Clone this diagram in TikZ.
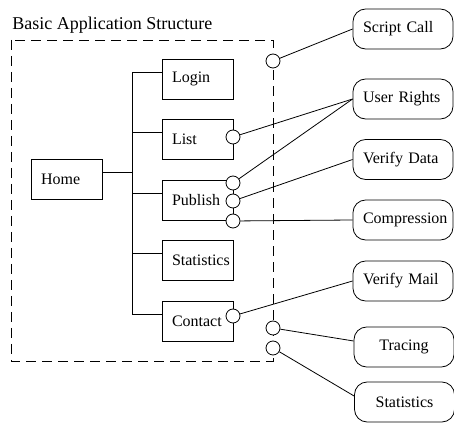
\documentclass[tikz,border=0pt]{standalone}
\usepackage{fontspec}
\setmainfont{Liberation Serif}
\usetikzlibrary{positioning}

\begin{document}
\begin{tikzpicture}[
  x=0.75pt, y=-0.75pt,
  box/.style={rectangle, draw, fill=white, line width=0.6pt, minimum width=53.25pt, minimum height=30pt,
    text width=38.25pt, inner sep=7.5pt, align=left, font=\fontsize{12}{14}\selectfont},
  svc/.style={rectangle, draw, fill=white, line width=0.6pt, rounded corners=9.5pt, minimum width=75pt, minimum height=30pt,
    text width=60pt, inner sep=7.5pt, align=left, font=\fontsize{12}{14}\selectfont},
  port/.style={circle, draw, fill=white, line width=0.6pt, inner sep=0pt, minimum size=10.5pt},
  link/.style={line width=0.6pt}
]
  \useasboundingbox (0,0) rectangle (454,423);

  % application frame
  \node[anchor=base west, inner sep=0pt, font=\fontsize{13.5}{16}\selectfont] (title) at (12,30) {Basic Application Structure};
  \draw[line width=0.6pt, dash pattern=on 7.5pt off 4.5pt] (11,40) rectangle (273,361);

  % pages
  \node[box] (home) at (66.5,179.5) {Home};
  \node[box] (login) at (197.5,79) {Login};
  \node[box] (list) at (197.5,139) {List};
  \node[box] (publish) at (197.5,200) {Publish};
  \node[box] (stats) at (197.5,260.5) {Statistics};
  \node[box] (contact) at (197.5,321) {Contact};

  % tree
  \coordinate (trunk) at (132,0);
  \draw[link] ([yshift=5pt]home.east) -- ([yshift=5pt]home.east -| trunk);
  \foreach \n in {login,list,publish,stats,contact}
    \draw[link] ([yshift=5pt]\n.west) -- ([yshift=5pt]\n.west -| trunk);
  \draw[link] ([yshift=5pt]login.west -| trunk) -- ([yshift=5pt]contact.west -| trunk);

  % services
  \node[svc] (script) at (403,29) {Script Call};
  \node[svc] (rights) at (403,99) {User Rights};
  \node[svc] (verify) at (403,159.5) {Verify Data};
  \node[svc] (compress) at (403,220) {Compression};
  \node[svc] (mail) at (403,281) {Verify Mail};
  \node[svc, minimum width=73.5pt, align=center] (trace) at (404,347) {Tracing};
  \node[svc, minimum width=72.75pt, align=center] (stats2) at (404.5,402) {Statistics};

  % interfaces
  \node[port] (pscript) at (273,61) {};
  \node[port] (plist) at (233,137) {};
  \node[port] (ppub1) at (233,183) {};
  \node[port] (ppub2) at (233,201) {};
  \node[port] (ppub3) at (233,221) {};
  \node[port] (pcontact) at (233,316) {};
  \node[port] (ptrace) at (273,328) {};
  \node[port] (pstats) at (273,348) {};

  \draw[link] (pscript) -- (script.west);
  \draw[link] (plist) -- (rights.west);
  \draw[link] (ppub1) -- (rights.west);
  \draw[link] (ppub2) -- (verify.west);
  \draw[link] (ppub3) -- (compress.west);
  \draw[link] (pcontact) -- (mail.west);
  \draw[link] (ptrace) -- ([yshift=4.5pt]trace.west);
  \draw[link] (pstats) -- ([yshift=4.5pt]stats2.west);
\end{tikzpicture}
\end{document}
